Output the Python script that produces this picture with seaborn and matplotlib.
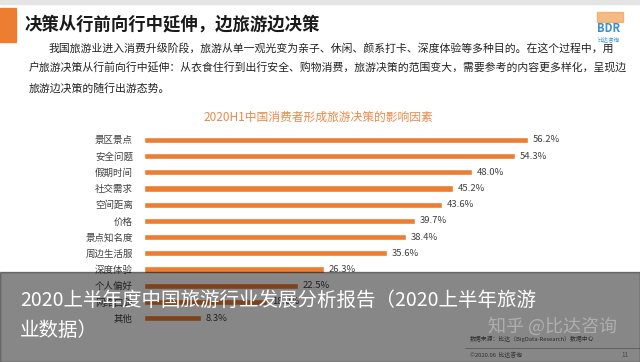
import matplotlib
matplotlib.use("Agg")
import matplotlib.pyplot as plt
import matplotlib.patches as mpatches
import pandas as pd
import seaborn as sns

# data
factors = ["景区景点", "安全问题", "假期时间", "社交需求", "空间距离", "价格",
           "景点知名度", "周边生活服", "深度体验", "个人偏好", "网络口碑", "其他"]
shares = [56.2, 54.3, 48.0, 45.2, 43.6, 39.7, 38.4, 35.6, 26.3, 22.5, 18.0, 8.3]

page_title = "决策从行前向行中延伸，边旅游边决策"
intro_lines = [
    "我国旅游业进入消费升级阶段，旅游从单一观光变为亲子、休闲、颜系打卡、深度体验等多种目的。在这个过程中，用",
    "户旅游决策从行前向行中延伸：从衣食住行到出行安全、购物消费，旅游决策的范围变大，需要参考的内容更多样化，呈现边",
    "旅游边决策的随行出游态势。",
]
chart_title = "2020H1中国消费者形成旅游决策的影响因素"
caption_lines = ["2020上半年度中国旅游行业发展分析报告（2020上半年旅游", "业数据）"]

df = pd.DataFrame({"factor": factors, "share": shares})

sns.set_theme(style="white")
plt.rcParams["font.family"] = ["Noto Sans CJK SC", "DejaVu Sans"]

W, H = 640, 362
fig = plt.figure(figsize=(W / 100, H / 100), dpi=100)
fig.patch.set_facecolor("white")


def fx(px):
    return px / W


def fy(py):
    return 1 - py / H


# bar axes: 0% at x=144px, 56.2% at x=528px, rows 16.2px apart starting at y=140
px_per_unit = (528 - 144) / 56.2
row = 16.2
top = 140 - row / 2
bottom = 318 + row / 2
ax = fig.add_axes([fx(144), fy(bottom), fx(px_per_unit * 70), (bottom - top) / H])
sns.barplot(data=df, y="factor", x="share", orient="h", color="#ED7D31",
            width=0.38, saturation=1, ax=ax)
ax.set_xlim(0, 70)
ax.set_ylim(len(factors) - 0.5, -0.5)
ax.set_xlabel("")
ax.set_ylabel("")
ax.set_xticks([])
ax.tick_params(axis="y", length=0, labelsize=6.8, labelcolor="#404040", pad=8)
for s in ax.spines.values():
    s.set_visible(False)
ax.patch.set_alpha(0)
for i, v in enumerate(shares):
    ax.text(v + 0.7, i, f"{v:.1f}%", va="center", ha="left", fontsize=6.8, color="#404040")

# header
fig.patches.append(mpatches.Rectangle((0, fy(4)), 1, 4 / H, transform=fig.transFigure,
                                      color="#e4e4e4", zorder=0))
fig.patches.append(mpatches.Rectangle((0, fy(42)), fx(16), 34 / H, transform=fig.transFigure,
                                      color="#ED7D31", zorder=1))
fig.text(fx(25), fy(24), page_title, fontsize=12.5, fontweight="bold", color="#1a1a1a",
         va="center", ha="left")

# logo
fig.patches.append(mpatches.Rectangle((fx(597), fy(22)), fx(26), 10 / H, transform=fig.transFigure,
                                      color="#F0A050", alpha=0.7, zorder=1))
fig.text(fx(609), fy(28), "BDR", fontsize=8, fontweight="bold", color="#3a8fd0",
         ha="center", va="center", zorder=2)
fig.text(fx(609), fy(39), "比达咨询", fontsize=4, color="#3a8fd0", ha="center", va="center")

fig.text(fx(49), fy(48), intro_lines[0], fontsize=7.8, color="#222222", va="center", ha="left")
fig.text(fx(29), fy(68), intro_lines[1], fontsize=7.8, color="#222222", va="center", ha="left")
fig.text(fx(29), fy(88), intro_lines[2], fontsize=7.8, color="#222222", va="center", ha="left")

fig.text(fx(318), fy(117), chart_title, fontsize=8.5, color="#E88A4C", ha="center", va="center")

# source note and watermark
fig.text(fx(470), fy(339), "数据来源：比达（BigData-Research）数据中心", fontsize=4.2,
         color="#555555", ha="left", va="center")
fig.lines.append(plt.Line2D([fx(465), 1], [fy(348), fy(348)], transform=fig.transFigure,
                            color="#aaaaaa", lw=0.6))
fig.text(fx(470), fy(355), "©2020.06  比达咨询", fontsize=4.2, color="#555555",
         ha="left", va="center")
fig.text(fx(625), fy(355), "11", fontsize=4.5, color="#888888", ha="center", va="center")

# grey caption overlay
fig.patches.append(mpatches.Rectangle((0, 0), 1, fy(272), transform=fig.transFigure,
                                      color="black", alpha=0.47, zorder=5))
fig.text(fx(20), fy(300), caption_lines[0], fontsize=14, color="white", ha="left",
         va="center", zorder=6)
fig.text(fx(20), fy(330), caption_lines[1], fontsize=14, color="white", ha="left",
         va="center", zorder=6)
fig.text(fx(552), fy(326), "知乎 @比达咨询", fontsize=13, color="#d0d0d0", alpha=0.55,
         ha="center", va="center", zorder=6)

fig.savefig("out.png", dpi=100)
